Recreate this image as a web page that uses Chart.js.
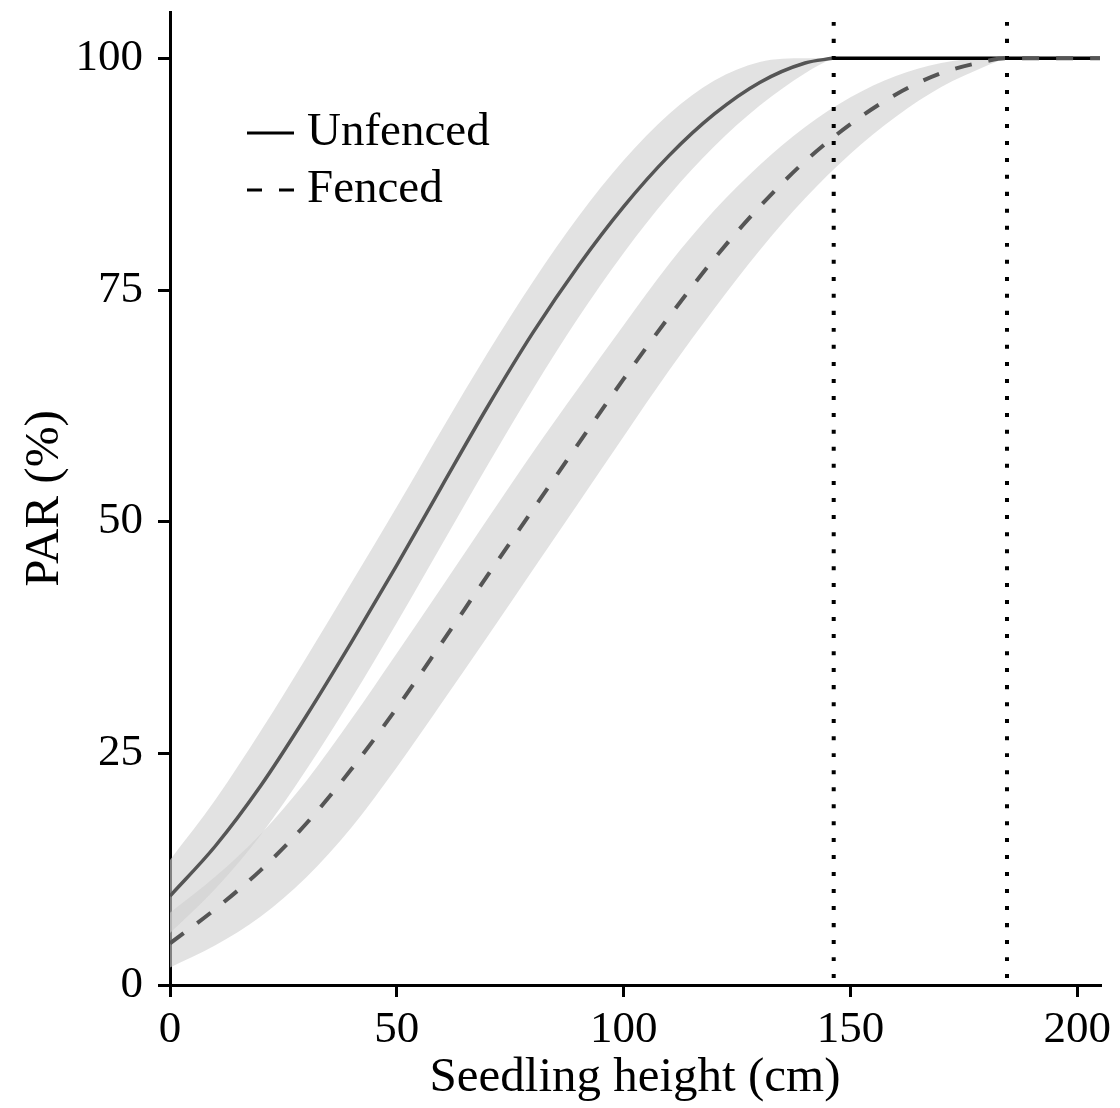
<!DOCTYPE html>
<html lang="en">

<head>
    <meta charset="UTF-8">
    <script src="https://cdn.jsdelivr.net/npm/chart.js@4.4.0/dist/chart.umd.min.js"></script>
    <title>PAR vs seedling height</title>
    <style>
        body { margin: 0; background: #fff; }
    </style>
</head>

<body>
    <canvas id="myChart" width="1120" height="1108"></canvas>
</body>

<script type='text/javascript'>

    // unfenced: fitted curve + confidence band
    const unfencedHeight = [0, 10, 20, 30, 40, 50, 60, 70, 80, 90, 100, 110, 120, 130, 140, 146]
    const unfencedPAR = [9.6, 15.0, 21.5, 29.0, 37.0, 45.3, 53.9, 62.4, 70.4, 77.6, 84.0, 89.5, 94.0, 97.4, 99.5, 100]
    const unfencedLow = [5.6, 10.4, 16.2, 23.2, 30.9, 39.1, 47.6, 56.1, 64.3, 72.0, 79.0, 85.2, 90.5, 94.9, 98.4, 100]
    const unfencedHigh = [13.5, 20.0, 27.4, 35.3, 43.4, 51.6, 60.0, 68.2, 75.9, 82.9, 89.0, 94.0, 97.6, 99.6, 100, 100]

    // fenced
    const fencedHeight = [0, 10, 20, 30, 40, 50, 60, 70, 80, 90, 100, 110, 120, 130, 140, 150, 160, 170, 180, 184]
    const fencedPAR = [4.5, 8.2, 12.4, 17.4, 23.3, 29.9, 37.0, 44.2, 51.3, 58.4, 65.4, 72.1, 78.4, 84.0, 88.9, 92.9, 96.1, 98.4, 99.7, 100]
    const fencedLow = [1.9, 4.3, 7.4, 11.6, 17.0, 23.5, 30.5, 37.6, 44.8, 52.0, 59.2, 66.3, 73.0, 79.3, 84.9, 89.7, 93.7, 96.9, 99.2, 100]
    const fencedHigh = [7.8, 11.7, 16.3, 22.0, 28.7, 35.8, 43.0, 50.3, 57.5, 64.4, 71.2, 77.8, 83.6, 88.5, 92.6, 95.8, 98.1, 99.5, 100, 100]

    // heights where each curve reaches 100 %
    const thresholds = [146.3, 184.5]
    const xMax = 205
    const yMax = 105

    const xTicks = [0, 50, 100, 150, 200]
    const yTicks = [0, 25, 50, 75, 100]
    const legendLabels = ['Unfenced', 'Fenced']

    const FONT = '"Liberation Serif", "Times New Roman", serif'
    const LINE = '#555555'
    const BAND = 'rgba(208, 208, 208, 0.62)'

    const pts = (xs, ys) => xs.map((x, i) => ({ x: x, y: ys[i] }))

    const lineBase = { pointRadius: 0, pointHitRadius: 0, fill: false, cubicInterpolationMode: 'monotone' }

    // legend drawn in the top-left corner of the plot
    const cornerLegend = {
        id: 'cornerLegend',
        afterDraw(chart) {
            const ctx = chart.ctx
            const a = chart.chartArea
            const x0 = a.left + 77, x1 = a.left + 124
            const rows = [a.top + 121, a.top + 178]
            ctx.save()
            ctx.strokeStyle = '#000'
            ctx.lineWidth = 3
            ctx.beginPath(); ctx.moveTo(x0, rows[0]); ctx.lineTo(x1, rows[0]); ctx.stroke()
            ctx.setLineDash([15, 17])
            ctx.beginPath(); ctx.moveTo(x0, rows[1]); ctx.lineTo(x1 + 1, rows[1]); ctx.stroke()
            ctx.setLineDash([])
            ctx.fillStyle = '#000'
            ctx.font = '47px ' + FONT
            ctx.textBaseline = 'middle'
            ctx.textAlign = 'left'
            legendLabels.forEach((t, i) => ctx.fillText(t, a.left + 137, rows[i]))
            ctx.restore()
        }
    }

    const ctx = document.getElementById('myChart').getContext('2d')
    const chart = new Chart(ctx, {
        type: 'line',
        data: {
            datasets: [
                // bands
                { ...lineBase, data: pts(unfencedHeight, unfencedLow), borderWidth: 0, order: 4 },
                { ...lineBase, data: pts(unfencedHeight, unfencedHigh), borderWidth: 0, fill: '-1', backgroundColor: BAND, order: 4 },
                { ...lineBase, data: pts(fencedHeight, fencedLow), borderWidth: 0, order: 4 },
                { ...lineBase, data: pts(fencedHeight, fencedHigh), borderWidth: 0, fill: '-1', backgroundColor: BAND, order: 4 },
                // plateau at 100 %
                { ...lineBase, data: [{ x: unfencedHeight[unfencedHeight.length - 1], y: 100 }, { x: xMax, y: 100 }], borderColor: '#000', borderWidth: 3.5, order: 3 },
                // fitted curves
                { ...lineBase, label: legendLabels[0], data: pts(unfencedHeight, unfencedPAR), borderColor: LINE, borderWidth: 3.5, order: 2 },
                { ...lineBase, label: legendLabels[1], data: pts(fencedHeight.concat([xMax]), fencedPAR.concat([100])), borderColor: LINE, borderWidth: 4, borderDash: [17, 17], order: 1 },
                // thresholds
                ...thresholds.map(t => ({
                    ...lineBase, data: [{ x: t, y: yMax }, { x: t, y: 0 }],
                    borderColor: '#000', borderWidth: 4, borderDash: [4, 13], borderDashOffset: 7, order: 0
                }))
            ]
        },
        options: {
            responsive: false,
            animation: false,
            devicePixelRatio: 1,
            layout: { padding: { top: 12, right: 20, left: 0, bottom: 0 } },
            plugins: { legend: { display: false }, tooltip: { enabled: false } },
            scales: {
                x: {
                    type: 'linear', min: 0, max: xMax,
                    afterBuildTicks: s => { s.ticks = xTicks.map(v => ({ value: v })) },
                    afterFit: s => { s.height = 123; s.paddingLeft = 0; s.paddingRight = 0 },
                    border: { color: '#000', width: 3 },
                    grid: { drawOnChartArea: false, color: '#000', lineWidth: 3, tickLength: 12, tickColor: '#000', tickWidth: 3 },
                    ticks: { color: '#000', font: { family: FONT, size: 45 }, padding: 6, maxRotation: 0, autoSkip: false },
                    title: { display: true, text: 'Seedling height (cm)', color: '#000', font: { family: FONT, size: 49 }, padding: { top: 0, bottom: 0 } }
                },
                y: {
                    type: 'linear', min: 0, max: yMax,
                    afterBuildTicks: s => { s.ticks = yTicks.map(v => ({ value: v })) },
                    afterFit: s => { s.width = 170; s.paddingTop = 0; s.paddingBottom = 0 },
                    border: { color: '#000', width: 3 },
                    grid: { drawOnChartArea: false, color: '#000', lineWidth: 3, tickLength: 12, tickColor: '#000', tickWidth: 3 },
                    ticks: { color: '#000', font: { family: FONT, size: 45 }, padding: 15, autoSkip: false },
                    title: { display: true, text: 'PAR (%)', color: '#000', font: { family: FONT, size: 49 }, padding: { top: 16, bottom: 0 } }
                }
            }
        },
        plugins: [cornerLegend]
    })

</script>

</html>
